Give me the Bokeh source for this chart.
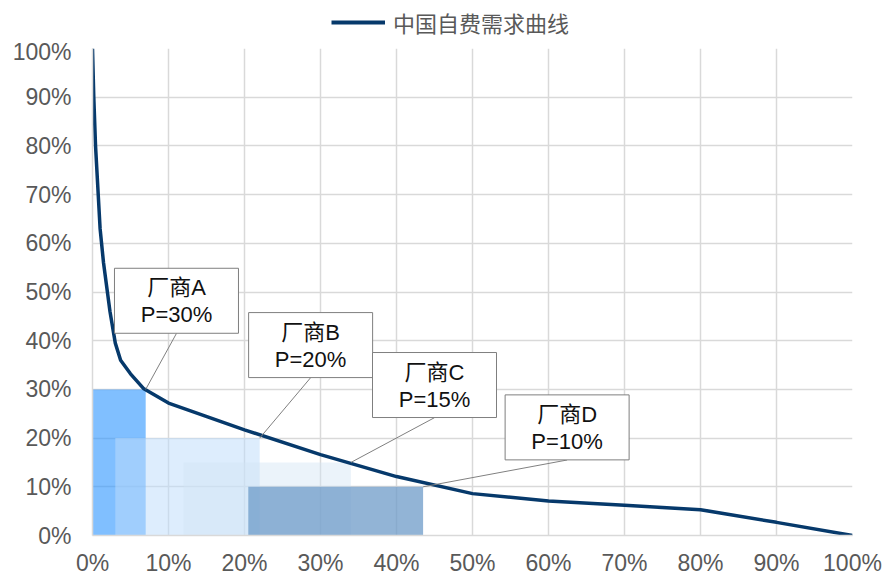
from bokeh.plotting import figure
from bokeh.layouts import column
from bokeh.models import (Range1d, FixedTicker, PrintfTickFormatter, Legend, LegendItem)
from bokeh.core.properties import value
from bokeh.embed import file_html
from bokeh.resources import INLINE

# Self-paid demand curve: share of patients (%) vs. price level (%)
curve_share = [0, 0.17, 0.4, 1, 1.45, 2.3, 3.0, 3.7, 5, 6.7, 10, 20, 30, 40, 50, 60, 70, 80, 90, 100]
curve_price = [100, 90, 80, 63, 56, 46, 39.5, 36, 33.2, 30.2, 27.2, 21.7, 16.6, 12.1, 8.6, 7.1, 6.2, 5.3, 2.7, 0]

# Vendors: price level and the share range each one covers
vendors = ["厂商A", "厂商B", "厂商C", "厂商D"]
vendor_price = [30, 20, 15, 10]
share_from = [0, 3, 12, 20.5]
share_to = [7, 22, 34, 43.5]

ticks = list(range(0, 101, 10))

# styling
CURVE_COLOR = "#06396B"
fills = ["#2C95FF", "#BEDCFB", "#D2E4F5", "#6E9BC8"]
alphas = [0.6, 0.52, 0.45, 0.75]
box_cx = [11.05, 28.7, 45.0, 62.45]
box_bottom = [41.5, 32.4, 24.2, 15.5]
box_h = 13.4

LATIN_CJK = "Liberation Sans, Noto Sans CJK SC"

p = figure(frame_width=760, frame_height=487, output_backend="svg", toolbar_location=None,
           x_range=Range1d(0, 100), y_range=Range1d(0, 100),
           min_border_left=92, min_border_right=31,
           min_border_top=10, min_border_bottom=0)
p.outline_line_color = None
p.background_fill_color = "white"

for ax in (p.xaxis[0], p.yaxis[0]):
    ax.ticker = FixedTicker(ticks=ticks)
    ax.formatter = PrintfTickFormatter(format="%d%%")
    ax.axis_line_color = "#D9D9D9"
    ax.axis_line_width = 1.5
    ax.major_tick_line_color = None
    ax.minor_tick_line_color = None
    ax.major_tick_out = 0
    ax.major_label_text_font = "Liberation Sans"
    ax.major_label_text_font_size = "23px"
    ax.major_label_text_color = "#595959"
p.xaxis.major_label_standoff = 14
p.xaxis.major_label_text_line_height = 1.0
p.yaxis.major_label_standoff = 21

for g in (p.xgrid[0], p.ygrid[0]):
    g.ticker = FixedTicker(ticks=ticks)
    g.grid_line_color = "#D9D9D9"
    g.grid_line_width = 1.5

# vendor blocks
for i in range(len(vendors)):
    p.quad(left=[share_from[i]], right=[share_to[i]], bottom=[0], top=[vendor_price[i]],
           fill_color=fills[i], fill_alpha=alphas[i], line_color=None)

# demand curve
p.line(curve_share, curve_price, line_color=CURVE_COLOR, line_width=3.5)

# callouts: leader line from box to the block's top-right corner
box_cy = [b + box_h / 2 for b in box_bottom]
p.segment(x0=box_cx, y0=box_bottom, x1=share_to, y1=vendor_price,
          line_color="#808080", line_width=1)
p.rect(x=box_cx, y=box_cy, width=124, height=65, width_units="screen", height_units="screen",
       fill_color="white", line_color="#7F7F7F", line_width=1)
p.text(x=box_cx, y=box_cy, text=vendors, y_offset=-13,
       text_align="center", text_baseline="middle",
       text_font=value(LATIN_CJK), text_font_size="22px", text_color="#111111")
p.text(x=box_cx, y=box_cy, text=[f"P={v}%" for v in vendor_price], y_offset=14,
       text_align="center", text_baseline="middle",
       text_font=value("Liberation Sans"), text_font_size="22px", text_color="#111111")

# legend strip above the chart; its key line lies outside the strip's visible range
lg = figure(width=883, height=38, output_backend="svg", toolbar_location=None,
            x_range=Range1d(0, 1), y_range=Range1d(0, 1),
            min_border_left=0, min_border_right=0, min_border_top=0, min_border_bottom=0)
lg.outline_line_color = None
lg.axis.visible = False
lg.grid.visible = False
key = lg.line(x=[-2, -1], y=[-2, -1], line_color=CURVE_COLOR, line_width=4)
legend = Legend(items=[LegendItem(label="中国自费需求曲线", renderers=[key])],
                location=(239, 0), orientation="horizontal",
                label_text_font="Noto Sans CJK SC", label_text_font_size="22px",
                label_text_color="#595959", glyph_width=54, glyph_height=20,
                label_standoff=8, padding=2, margin=0, spacing=0,
                border_line_color=None, background_fill_alpha=0)
lg.add_layout(legend, "center")

open("out.html", "w").write(file_html(column(lg, p, spacing=0), INLINE))
